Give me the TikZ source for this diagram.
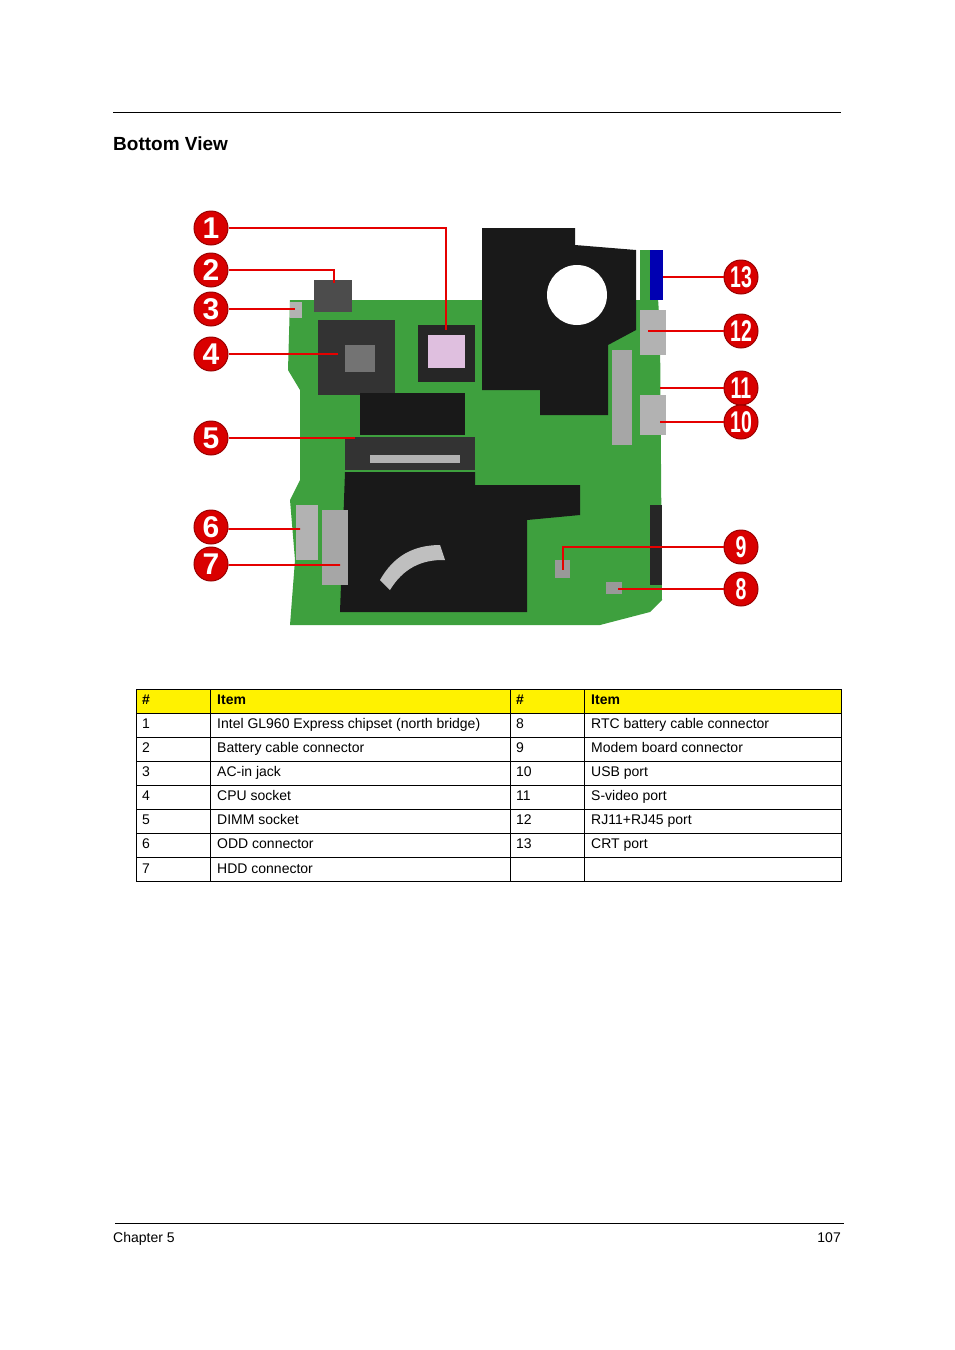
\documentclass[tikz,border=0pt]{standalone}
\usepackage{fontspec}
\setmainfont{Liberation Sans}
\definecolor{pcb}{RGB}{62,160,62}
\begin{document}
\begin{tikzpicture}[x=1pt,y=-1pt,
  callout/.style={circle,fill=red!85!black,draw=red!60!black,line width=1pt,minimum size=34pt,inner sep=0pt,text=white,font=\fontsize{30}{30}\selectfont\bfseries},
  lead/.style={red!90!black,line width=1.6pt},
  cell/.style={anchor=base west,font=\fontsize{14}{14}\selectfont,inner sep=0pt},
  hcell/.style={anchor=base west,font=\fontsize{14}{14}\selectfont\bfseries,inner sep=0pt}]
\useasboundingbox (0,0) rectangle (954,1350);
\draw[line width=0.8pt] (113,112) -- (841,112);
\node[anchor=base west,inner sep=0pt,font=\fontsize{19}{19}\selectfont\bfseries] (title) at (113,150) {Bottom View};
% board
\fill[pcb] (290,300)--(640,300)--(640,250)--(655,250)--(660,330)--(662,600)--(650,612)--(600,625)--(290,625)--(295,560)--(290,500)--(300,480)--(300,390)--(288,370)--cycle;
\fill[black!90] (482,228)--(575,228)--(575,245)--(636,250)--(636,330)--(608,345)--(608,415)--(540,415)--(540,390)--(482,390)--cycle;
\fill[white] (577,295) circle (30);
\fill[black!80] (318,320) rectangle (395,395);
\fill[black!55] (345,345) rectangle (375,372);
\fill[black!85] (418,325) rectangle (475,382);
\fill[violet!25] (428,335) rectangle (465,368);
\fill[black!90] (360,393) rectangle (465,435);
\fill[black!80] (345,437) rectangle (475,470);
\fill[gray!60] (370,455) rectangle (460,463);
\fill[black!90] (345,472)--(475,472)--(475,485)--(580,485)--(580,515)--(527,520)--(527,612)--(340,612)--cycle;
\fill[gray!50] (380,580) to[bend left] (440,545) -- (445,560) to[bend right] (390,590)--cycle;
\fill[gray!60] (296,505) rectangle (318,560);
\fill[gray!70] (322,510) rectangle (348,585);
\fill[black!70] (314,280) rectangle (352,312);
\fill[gray!60] (290,302) rectangle (302,318);
\fill[blue!70!black] (650,250) rectangle (663,300);
\fill[gray!60] (640,310) rectangle (666,355);
\fill[gray!60] (640,395) rectangle (666,435);
\fill[gray!70] (612,350) rectangle (632,445);
\fill[black!85] (650,505) rectangle (662,585);
\fill[gray!80] (555,560) rectangle (570,578);
\fill[gray!80] (606,582) rectangle (622,594);
% callouts
\foreach \n/\y in {1/228,2/270,3/309,4/354,5/438,6/527,7/564}
  \node[callout] (c\n) at (211,\y) {\n};
\foreach \n/\y in {13/277,12/331,11/388,10/422,9/547,8/589}
  \node[callout] (c\n) at (741,\y) {\scalebox{0.65}[1]{\n}};
\coordinate (e1) at (446,330); \coordinate (e2) at (334,283);
\coordinate (e3) at (295,309); \coordinate (e4) at (338,354);
\coordinate (e5) at (355,438); \coordinate (e6) at (300,529);
\coordinate (e7) at (340,565); \coordinate (e13) at (663,277);
\coordinate (e12) at (648,331); \coordinate (e11) at (660,388);
\coordinate (e10) at (660,422); \coordinate (e9) at (563,570);
\coordinate (e8) at (618,589);
\draw[lead] (c1) -- (446,228) -- (e1);
\draw[lead] (c2) -- (334,270) -- (e2);
\foreach \n in {3,4,5,6,7} \draw[lead] (c\n) -- (e\n -| c\n.east) -- (e\n);
\foreach \n in {13,12,11,10,8} \draw[lead] (c\n) -- (e\n);
\draw[lead] (c9) -- (563,547) -- (e9);
% table
\fill[yellow] (136,689) rectangle (841,713);
\draw[line width=0.8pt] (136,689) rectangle (841,881);
\foreach \y in {713,737,761,785,809,833,857} \draw[line width=0.6pt] (136,\y) -- (841,\y);
\foreach \x in {210,510,584} \draw[line width=0.6pt] (\x,689) -- (\x,881);
\node[hcell] (h1) at (142,704) {\#};
\node[hcell] (h2) at (217,704) {Item};
\node[hcell] (h3) at (516,704) {\#};
\node[hcell] (h4) at (591,704) {Item};
\foreach \i/\a/\b/\c/\d in {0/1/Intel GL960 Express chipset (north bridge)/8/RTC battery cable connector,
  1/2/Battery cable connector/9/Modem board connector,
  2/3/AC-in jack/10/USB port,
  3/4/CPU socket/11/S-video port,
  4/5/DIMM socket/12/RJ11+RJ45 port,
  5/6/ODD connector/13/CRT port}{
  \node[cell] (r\i a) at (142,728+24*\i) {\a};
  \node[cell] (r\i b) at (217,728+24*\i) {\b};
  \node[cell] (r\i c) at (516,728+24*\i) {\c};
  \node[cell] (r\i d) at (591,728+24*\i) {\d};}
\node[cell] (r6a) at (142,873) {7};
\node[cell] (r6b) at (217,873) {HDD connector};
% footer
\draw[line width=0.8pt] (115,1223) -- (844,1223);
\node[cell] (ch) at (113,1242) {Chapter 5};
\node[cell,anchor=base east] (pg) at (841,1242) {107};
\end{tikzpicture}
\end{document}
